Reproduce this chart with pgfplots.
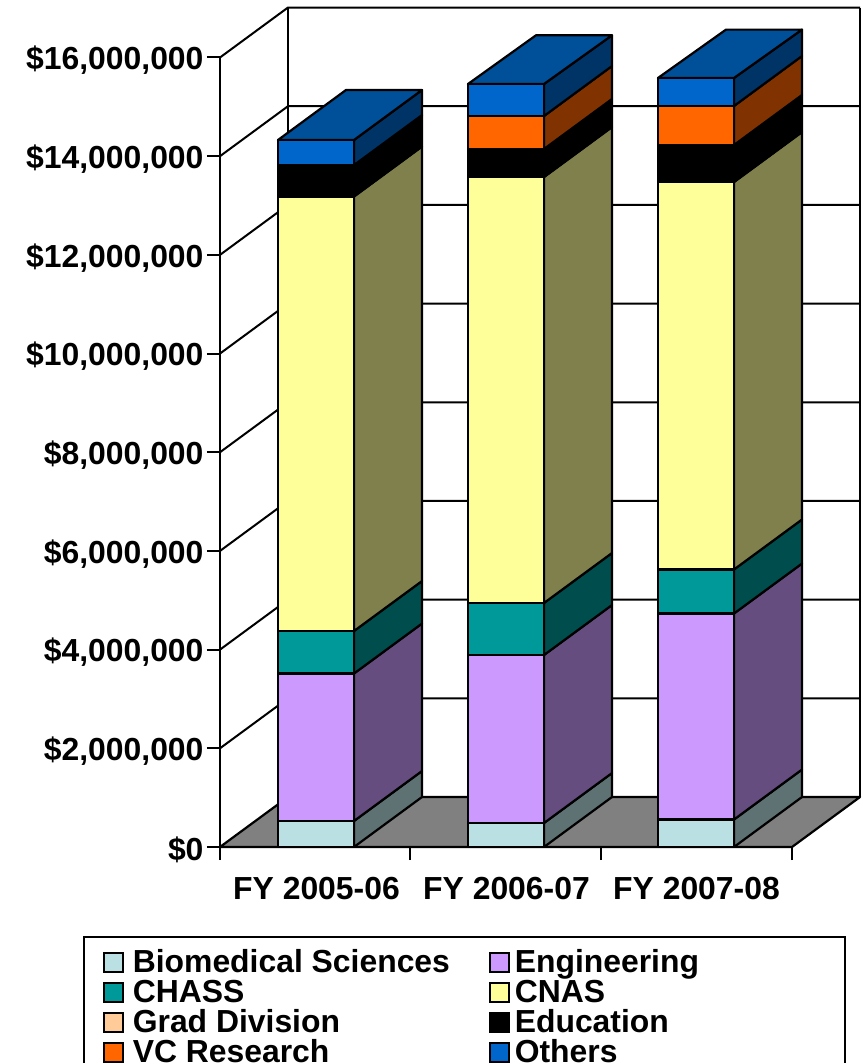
\documentclass[border=0pt]{standalone}
\usepackage{pgfplots}
\pgfplotsset{compat=1.18}
\usepackage{fontspec}
\setmainfont{Liberation Sans}
\definecolor{cBio}{HTML}{BBE0E3}\definecolor{cBioS}{HTML}{5E7173}
\definecolor{cEng}{HTML}{CC99FF}\definecolor{cEngS}{HTML}{664D80}
\definecolor{cCha}{HTML}{009999}\definecolor{cChaS}{HTML}{004D4D}
\definecolor{cCna}{HTML}{FFFF99}\definecolor{cCnaS}{HTML}{80804D}
\definecolor{cGrad}{HTML}{FFCC99}
\definecolor{cVC}{HTML}{FF6600}\definecolor{cVCS}{HTML}{803300}
\definecolor{cOth}{HTML}{0066CC}\definecolor{cOthS}{HTML}{003366}\definecolor{cOthT}{HTML}{004F99}
\definecolor{cFloor}{HTML}{808080}
\newcommand{\bigbf}{\bfseries\fontsize{32}{32}\selectfont}
\newcommand{\face}[2]{\addplot[fill=#1,draw=black,line width=2.2bp,line join=round,forget plot] coordinates {#2} -- cycle;}
\newcommand{\gline}[1]{\addplot[black,line width=2bp,forget plot] coordinates {#1};}
\begin{document}
\begin{tikzpicture}
\useasboundingbox (0,0) rectangle (867bp,1063bp);
\begin{axis}[
  at={(220bp,216bp)}, anchor=south west, scale only axis,
  width=572bp, height=789.5bp,
  xmin=220, xmax=792, ymin=0, ymax=16000000, clip=false,
  axis lines=left, axis line style={-,line width=2.2bp,black},
  tick align=outside, major tick length=13bp,
  every tick/.style={black,line width=2bp},
  xtick={220,410,601,792}, xticklabels={},
  extra x ticks={316.5,506.5,696.5},
  extra x tick labels={FY 2005-06,FY 2006-07,FY 2007-08},
  extra x tick style={major tick length=0pt,tick label style={yshift=-27bp}},
  ytick={0,2000000,4000000,6000000,8000000,10000000,12000000,14000000,16000000},
  yticklabels={\$0,{\$2,000,000},{\$4,000,000},{\$6,000,000},{\$8,000,000},{\$10,000,000},{\$12,000,000},{\$14,000,000},{\$16,000,000}},
  tick label style={font=\bigbf},
  yticklabel style={yshift=-3bp},
  scaled y ticks=false,
  no markers,
]
% walls and floor
\gline{(288,1013000)(288,17013000)}
\gline{(860,1013000)(860,17013000)}
\gline{(220,2000000)(288,3013000)(860,3013000)}
\gline{(220,4000000)(288,5013000)(860,5013000)}
\gline{(220,6000000)(288,7013000)(860,7013000)}
\gline{(220,8000000)(288,9013000)(860,9013000)}
\gline{(220,10000000)(288,11013000)(860,11013000)}
\gline{(220,12000000)(288,13013000)(860,13013000)}
\gline{(220,14000000)(288,15013000)(860,15013000)}
\gline{(220,16000000)(288,17013000)(860,17013000)}
\face{cFloor}{(220,0)(288,1013000)(860,1013000)(792,0)}
% FY 2005-06 side and top faces
\face{cBioS}{(354,0)(422,1013000)(422,1540000)(354,527000)}
\face{cEngS}{(354,527000)(422,1540000)(422,4529000)(354,3516000)}
\face{cChaS}{(354,3516000)(422,4529000)(422,5390000)(354,4377000)}
\face{cCnaS}{(354,4377000)(422,5390000)(422,14196000)(354,13183000)}
\face{black}{(354,13183000)(422,14196000)(422,14833000)(354,13820000)}
\face{cOthS}{(354,13820000)(422,14833000)(422,15341000)(354,14328000)}
\face{cOthT}{(278,14328000)(346,15341000)(422,15341000)(354,14328000)}
% FY 2006-07
\face{cBioS}{(544,0)(612,1013000)(612,1499000)(544,486000)}
\face{cEngS}{(544,486000)(612,1499000)(612,4904000)(544,3891000)}
\face{cChaS}{(544,3891000)(612,4904000)(612,5958000)(544,4945000)}
\face{cCnaS}{(544,4945000)(612,5958000)(612,14591000)(544,13578000)}
\face{black}{(544,13578000)(612,14591000)(612,15159000)(544,14146000)}
\face{cVCS}{(544,14146000)(612,15159000)(612,15827000)(544,14814000)}
\face{cOthS}{(544,14814000)(612,15827000)(612,16450000)(544,15463000)}
\face{cOthT}{(468,15463000)(536,16450000)(612,16450000)(544,15463000)}
% FY 2007-08
\face{cBioS}{(734,0)(802,1013000)(802,1570000)(734,557000)}
\face{cEngS}{(734,557000)(802,1570000)(802,5745000)(734,4732000)}
\face{cChaS}{(734,4732000)(802,5745000)(802,6637000)(734,5624000)}
\face{cCnaS}{(734,5624000)(802,6637000)(802,14490000)(734,13477000)}
\face{black}{(734,13477000)(802,14490000)(802,15240000)(734,14227000)}
\face{cVCS}{(734,14227000)(802,15240000)(802,16030000)(734,15017000)}
\face{cOthS}{(734,15017000)(802,16030000)(802,16565000)(734,15585000)}
\face{cOthT}{(658,15585000)(726,16565000)(802,16565000)(734,15585000)}
\end{axis}
\begin{axis}[
  at={(220bp,216bp)}, anchor=south west, scale only axis,
  width=572bp, height=789.5bp,
  xmin=220, xmax=792, ymin=0, ymax=16000000, clip=false,
  axis lines=none,
  ybar stacked, bar width=76bp,
  every axis plot/.append style={draw=black,line width=2.2bp},
  legend columns=2, legend cell align=left,
  legend style={
    at={(axis cs:103,-2087000)}, anchor=north west, draw=none, fill=none,
    inner sep=0pt, outer sep=0pt,
    font=\bigbf,
    nodes={inner sep=0pt, outer sep=0pt, text height=23bp, text depth=7bp},
    /tikz/column 1/.style={column sep=9bp},
    /tikz/column 2/.style={column sep=39bp},
    /tikz/column 3/.style={column sep=5bp},
  },
  legend image code/.code={\draw[#1,line width=1.8bp] (0bp,-9.5bp+2.5bp) rectangle (19bp,9.5bp+2.5bp);},
]
\addplot[fill=cBio] coordinates {(316,527000)(506,486000)(696,557000)};
\addplot[fill=cEng] coordinates {(316,2989000)(506,3405000)(696,4175000)};
\addplot[fill=cCha] coordinates {(316,861000)(506,1054000)(696,892000)};
\addplot[fill=cCna] coordinates {(316,8806000)(506,8633000)(696,7853000)};
\addplot[fill=cGrad] coordinates {(316,0)(506,0)(696,0)};
\addplot[fill=black] coordinates {(316,637000)(506,568000)(696,750000)};
\addplot[fill=cVC] coordinates {(316,0)(506,668000)(696,790000)};
\addplot[fill=cOth] coordinates {(316,508000)(506,649000)(696,568000)};
\legend{Biomedical Sciences,Engineering,CHASS,CNAS,Grad Division,Education,VC Research,Others}
\end{axis}
\draw[black,line width=2bp] (84bp,-20bp) rectangle (845bp,126bp);
\end{tikzpicture}
\end{document}
